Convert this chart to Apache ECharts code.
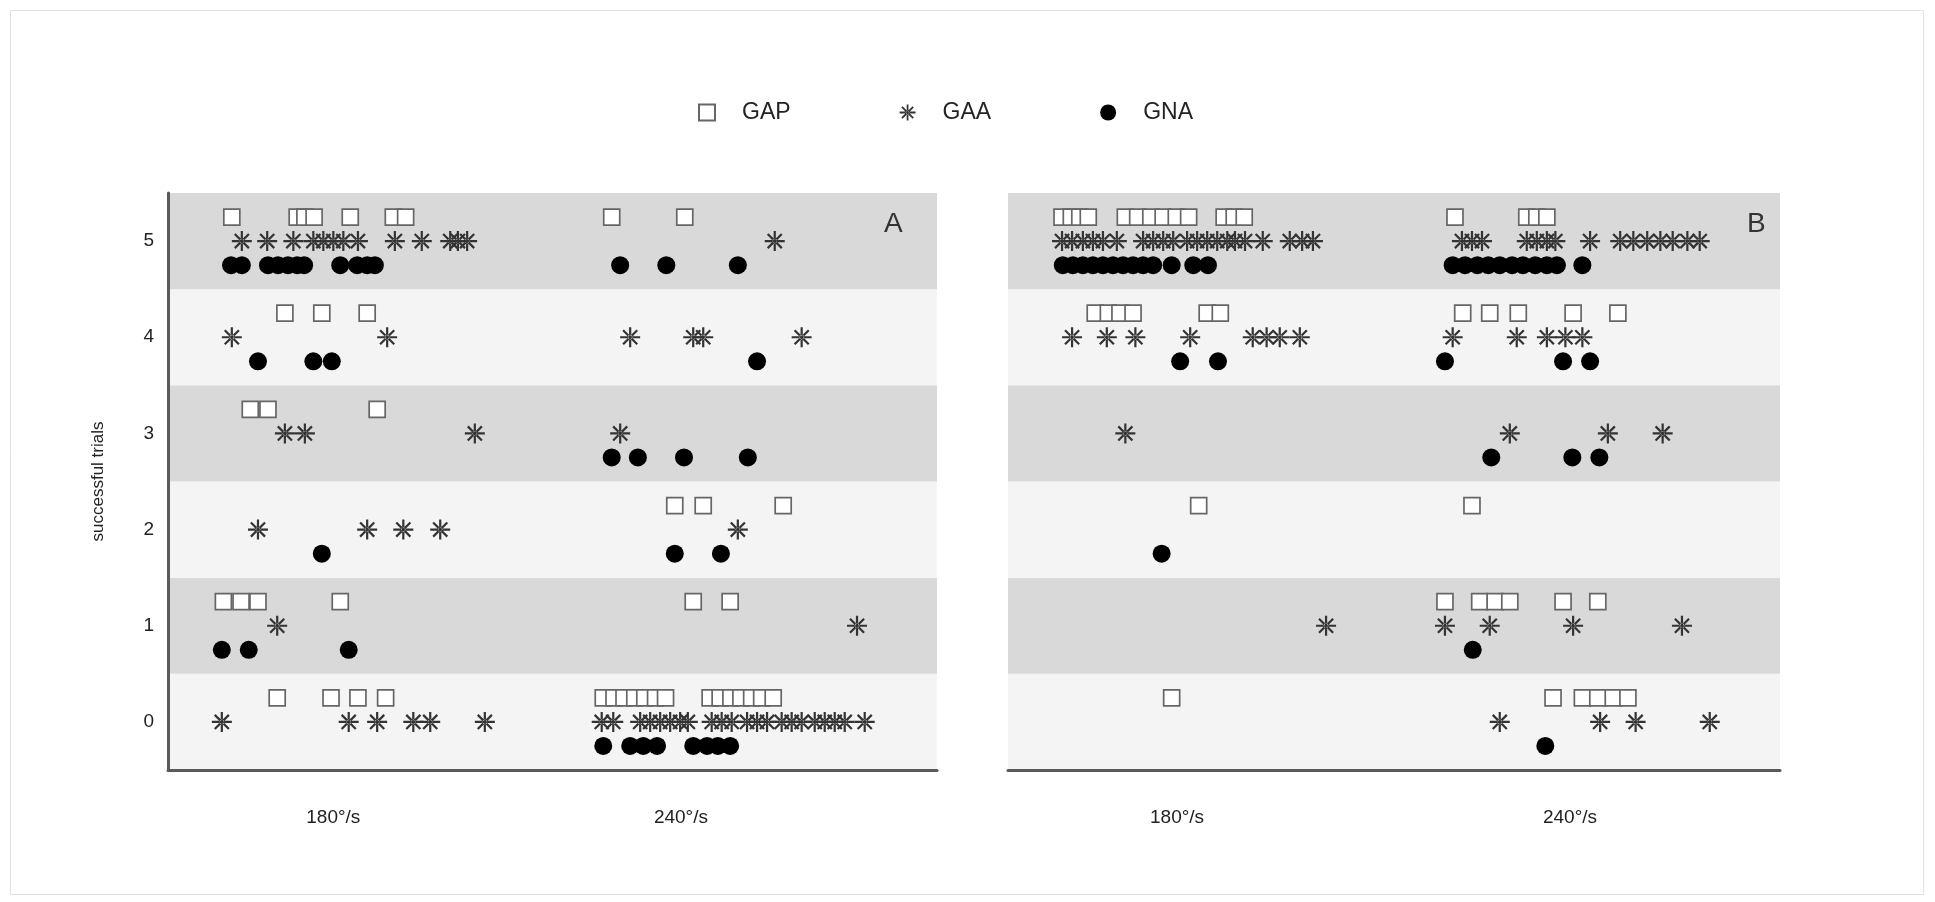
<!DOCTYPE html>
<html>
<head>
<meta charset="utf-8">
<script src="https://cdn.jsdelivr.net/npm/echarts@6/dist/echarts.min.js"></script>
<style>
  html, body { margin: 0; padding: 0; background: #ffffff; }
  #chart { width: 1935px; height: 902px; }
</style>
</head>
<body>
<div id="chart"></div>
<script>
// Speed categories and the outcome scale (number of successful trials)
const categories = ['180°/s', '240°/s'];
const trialLevels = ['0', '1', '2', '3', '4', '5'];
const groups = ['GAP', 'GAA', 'GNA'];
const panelNames = ['A', 'B'];

// Each subject: [horizontal jitter position on a 0–100 panel scale, successful trials]
const panelA_GAP = [
  [8.3,5],[16.8,5],[17.8,5],[19.0,5],[23.7,5],[29.3,5],[30.9,5],[57.7,5],[67.2,5],
  [15.2,4],[20.0,4],[25.9,4],
  [10.7,3],[13.0,3],[27.2,3],
  [65.9,2],[69.6,2],[80.0,2],
  [7.2,1],[9.5,1],[11.7,1],[22.4,1],[68.3,1],[73.1,1],
  [14.2,0],[21.2,0],[24.7,0],[28.3,0],
  [56.6,0],[58.0,0],[59.3,0],[60.7,0],[62.0,0],[63.4,0],[64.7,0],
  [70.5,0],[71.8,0],[73.2,0],[74.5,0],[75.9,0],[77.2,0],[78.7,0]
];
const panelA_GAA = [
  [9.6,5],[12.9,5],[16.3,5],[18.9,5],[20.2,5],[21.5,5],[22.8,5],[24.7,5],[29.5,5],[33.0,5],[36.7,5],[37.7,5],[38.9,5],[78.9,5],
  [8.3,4],[28.5,4],[60.1,4],[68.3,4],[69.6,4],[82.4,4],
  [15.2,3],[17.8,3],[39.9,3],[58.8,3],
  [11.7,2],[25.9,2],[30.6,2],[35.4,2],[74.1,2],
  [14.2,1],[89.6,1],
  [7.0,0],[23.5,0],[27.2,0],[31.9,0],[34.1,0],[41.2,0],
  [56.4,0],[57.9,0],[61.4,0],[62.7,0],[64.0,0],[65.3,0],[66.6,0],[67.6,0],
  [70.7,0],[72.0,0],[73.3,0],[75.3,0],[76.6,0],[77.9,0],[79.8,0],[81.1,0],[82.4,0],[84.1,0],[85.4,0],[86.7,0],[88.0,0],[90.6,0]
];
const panelA_GNA = [
  [8.2,5],[9.6,5],[13.0,5],[14.3,5],[15.6,5],[16.8,5],[17.7,5],[22.4,5],[24.6,5],[25.9,5],[26.9,5],[58.8,5],[64.8,5],[74.1,5],
  [11.7,4],[18.9,4],[21.3,4],[76.6,4],
  [57.7,3],[61.1,3],[67.1,3],[75.4,3],
  [20.0,2],[65.9,2],[71.9,2],
  [7.0,1],[10.5,1],[23.5,1],
  [56.6,0],[60.1,0],[61.8,0],[63.6,0],[68.3,0],[70.1,0],[71.5,0],[73.1,0]
];

const panelB_GAP = [
  [7.0,5],[8.2,5],[9.3,5],[10.4,5],[15.2,5],[16.8,5],[18.5,5],[20.1,5],[21.8,5],[23.4,5],[28.0,5],[29.3,5],[30.6,5],
  [57.9,5],[67.2,5],[68.5,5],[69.8,5],
  [11.3,4],[13.0,4],[14.5,4],[16.2,4],[25.8,4],[27.5,4],[58.9,4],[62.4,4],[66.1,4],[73.2,4],[79.0,4],
  [24.7,2],[60.1,2],
  [56.6,1],[61.1,1],[63.1,1],[65.0,1],[71.9,1],[76.4,1],
  [21.2,0],[70.6,0],[74.4,0],[76.4,0],[78.4,0],[80.3,0]
];
const panelB_GAA = [
  [7.0,5],[8.3,5],[9.7,5],[11.0,5],[12.3,5],[14.1,5],[17.5,5],[18.8,5],[20.1,5],[21.4,5],[23.2,5],[24.5,5],[25.8,5],[27.1,5],[28.4,5],[29.4,5],[30.7,5],[33.0,5],[36.5,5],[38.1,5],[39.5,5],
  [58.8,5],[60.1,5],[61.4,5],[67.2,5],[68.5,5],[69.8,5],[70.9,5],[75.4,5],[79.3,5],[81.0,5],[82.8,5],[84.5,5],[86.1,5],[88.0,5],[89.6,5],
  [8.3,4],[12.8,4],[16.5,4],[23.6,4],[31.7,4],[33.5,4],[35.2,4],[37.8,4],
  [57.6,4],[65.9,4],[69.8,4],[72.2,4],[74.4,4],
  [15.2,3],[65.0,3],[77.7,3],[84.8,3],
  [41.2,1],[56.6,1],[62.4,1],[73.2,1],[87.3,1],
  [63.7,0],[76.7,0],[81.3,0],[90.9,0]
];
const panelB_GNA = [
  [7.1,5],[8.4,5],[9.7,5],[11.0,5],[12.3,5],[13.6,5],[14.9,5],[16.2,5],[17.5,5],[18.8,5],[21.2,5],[24.0,5],[25.9,5],
  [57.6,5],[59.2,5],[60.8,5],[62.2,5],[63.7,5],[65.3,5],[66.7,5],[68.3,5],[69.8,5],[71.1,5],[74.4,5],
  [22.3,4],[27.2,4],[56.6,4],[71.9,4],[75.4,4],
  [62.6,3],[73.1,3],[76.6,3],
  [19.9,2],
  [60.2,1],
  [69.6,0]
];

// Where each speed label sits along a panel's horizontal scale
const categoryPos = [[21.5, 66.7], [21.9, 72.8]];

// Vertical offset of each group inside a trial band, so the groups stack
const groupOffset = { GAP: 0.25, GAA: 0, GNA: -0.25 };

// Eight-spoke asterisk marker
const asterisk = 'path://' +
  'M-10,-1.1L10,-1.1L10,1.1L-10,1.1Z' +
  'M-1.1,-10L1.1,-10L1.1,10L-1.1,10Z' +
  'M-6.29,-7.85L7.85,6.29L6.29,7.85L-7.85,-6.29Z' +
  'M-7.85,6.29L6.29,-7.85L7.85,-6.29L-6.29,7.85Z' +
  'M-2.4,0A2.4,2.4,0,1,0,2.4,0A2.4,2.4,0,1,0,-2.4,0Z';

const markerStyle = {
  GAP: { symbol: 'rect', symbolSize: 16, itemStyle: { color: '#ffffff', borderColor: '#666666', borderWidth: 1.7, opacity: 1 } },
  GAA: { symbol: asterisk, symbolSize: 20, itemStyle: { color: '#333333', opacity: 1 } },
  GNA: { symbol: 'circle', symbolSize: 18, itemStyle: { color: '#000000', opacity: 1 } }
};

const panelData = [
  { GAP: panelA_GAP, GAA: panelA_GAA, GNA: panelA_GNA },
  { GAP: panelB_GAP, GAA: panelB_GAA, GNA: panelB_GNA }
];

const gridBoxes = [
  { left: 168, top: 193, width: 769, height: 577 },
  { left: 1008, top: 193, width: 772, height: 577 }
];

const FONT = '"Liberation Sans", Arial, sans-serif';
const TEXT = '#222222';

const xAxes = [], yAxes = [], series = [];
gridBoxes.forEach((g, p) => {
  xAxes.push({
    type: 'value', gridIndex: p, min: 0, max: 100,
    axisLine: { show: true, onZero: false, lineStyle: { color: '#5a5a5a', width: 3 } },
    axisTick: { show: false },
    splitLine: { show: false },
    axisLabel: {
      show: true,
      customValues: categoryPos[p],
      formatter: v => {
        const i = categoryPos[p].indexOf(v);
        return i >= 0 ? categories[i] : '';
      },
      margin: 38, fontSize: 19, color: TEXT, fontFamily: FONT
    }
  });
  // Category axis drawing the alternating trial bands and their labels
  yAxes.push({
    type: 'category', gridIndex: p, data: trialLevels, boundaryGap: true,
    axisLine: { show: p === 0, onZero: false, lineStyle: { color: '#5a5a5a', width: 3 } },
    axisTick: { show: false },
    axisLabel: { show: p === 0, margin: 14, fontSize: 19, color: TEXT, fontFamily: FONT },
    splitLine: { show: false },
    splitArea: { show: true, areaStyle: { color: ['#f4f4f4', '#d9d9d9'] } },
    name: p === 0 ? 'successful trials' : '',
    nameLocation: 'middle', nameRotate: 90, nameGap: 61,
    nameTextStyle: { fontSize: 17, color: TEXT, fontFamily: FONT }
  });
  // Numeric companion axis used to place the markers inside the bands
  yAxes.push({
    type: 'value', gridIndex: p, min: -0.5, max: 5.5, show: false,
    splitLine: { show: false }
  });
  groups.forEach(name => {
    series.push(Object.assign({
      name, type: 'scatter', xAxisIndex: p, yAxisIndex: p * 2 + 1,
      data: panelData[p][name].map(d => [d[0], d[1] + groupOffset[name]]),
      emphasis: { disabled: true },
      z: 2
    }, markerStyle[name]));
  });
});

const chart = echarts.init(document.getElementById('chart'), null, { renderer: 'canvas' });
chart.setOption({
  animation: false,
  backgroundColor: '#ffffff',
  textStyle: { fontFamily: FONT },
  grid: gridBoxes.map(g => Object.assign({ containLabel: false }, g)),
  xAxis: xAxes,
  yAxis: yAxes,
  legend: {
    data: groups,
    left: 693, top: 96,
    itemWidth: 16, itemHeight: 16, itemGap: 109,
    textStyle: { fontSize: 23, color: TEXT, fontFamily: FONT, padding: [0, 0, 0, 22] },
    selectedMode: false
  },
  title: panelNames.map((t, p) => ({
    text: t,
    left: p === 0 ? 879 : 1742, top: 205,
    textStyle: { fontSize: 28, fontWeight: 'normal', color: '#333333', fontFamily: FONT }
  })),
  graphic: [{
    type: 'rect', silent: true, z: -10,
    shape: { x: 10.5, y: 10.5, width: 1913, height: 884 },
    style: { fill: 'none', stroke: '#e2e2e2', lineWidth: 1 }
  }],
  series
});
</script>
</body>
</html>
